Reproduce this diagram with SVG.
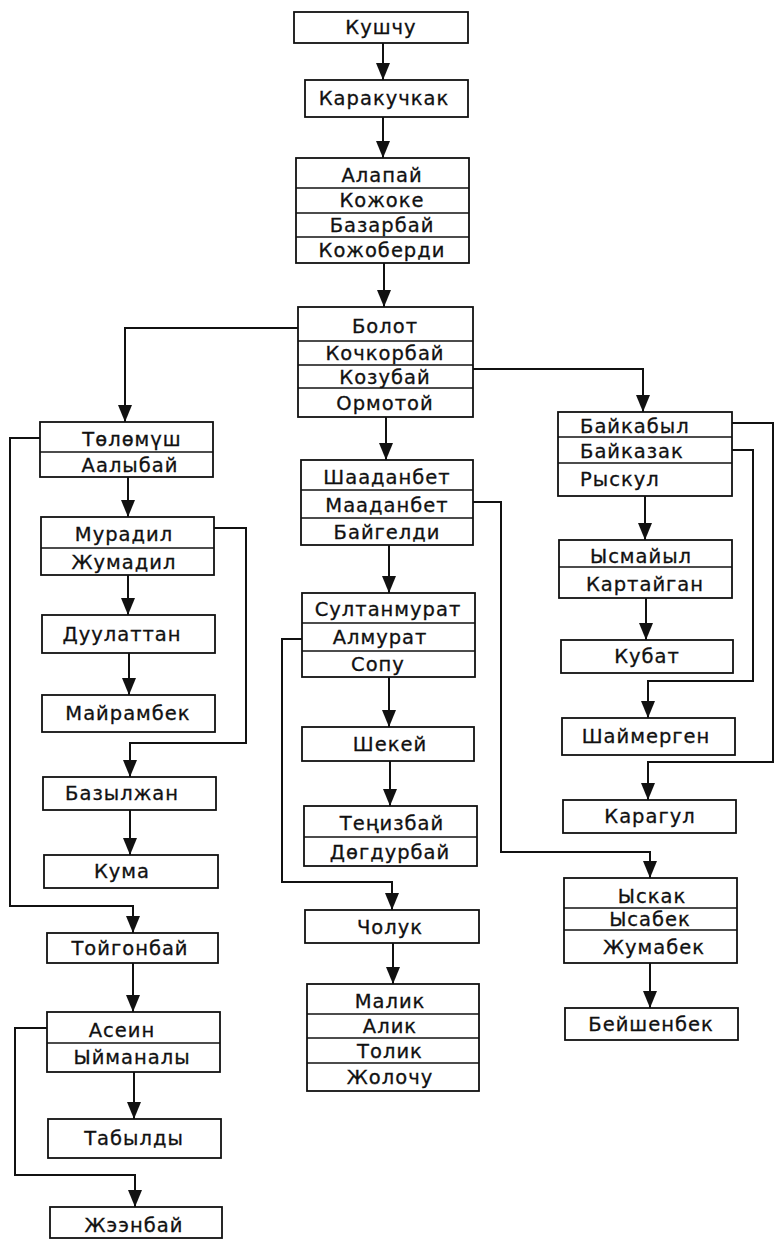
<svg xmlns="http://www.w3.org/2000/svg" width="775" height="1239" viewBox="0 0 775 1239">
<style>
rect.b{fill:#fff;stroke:#111;stroke-width:1.8}
line.s{stroke:#111;stroke-width:1.5}
text{font-family:"DejaVu Sans","Noto Sans",sans-serif;font-size:19.5px;fill:#111;text-anchor:middle;letter-spacing:1px;stroke:#111;stroke-width:0.3}
text.l{text-anchor:start}
.c{fill:none;stroke:#111;stroke-width:2}
</style>
<defs>
<marker id="ah" markerUnits="userSpaceOnUse" markerWidth="17" markerHeight="14" refX="17" refY="7" orient="auto" viewBox="0 0 17 14">
<path d="M0,0 L17,7 L0,14 z" fill="#111"/>
</marker>
</defs>
<rect width="775" height="1239" fill="#fff"/>
<g id="connectors">
<path class="c" marker-end="url(#ah)" d="M383,43 V80"/>
<path class="c" marker-end="url(#ah)" d="M383,117 V158"/>
<path class="c" marker-end="url(#ah)" d="M384,263 V307"/>
<path class="c" marker-end="url(#ah)" d="M298,328 H125 V422"/>
<path class="c" marker-end="url(#ah)" d="M473,369 H643 V412"/>
<path class="c" marker-end="url(#ah)" d="M386,417 V460"/>
<path class="c" marker-end="url(#ah)" d="M389,545 V593"/>
<path class="c" marker-end="url(#ah)" d="M473,502 H501 V852 H650 V878"/>
<path class="c" marker-end="url(#ah)" d="M389,677 V727"/>
<path class="c" marker-end="url(#ah)" d="M390,761 V806"/>
<path class="c" marker-end="url(#ah)" d="M302,639 H282 V882 H392 V910"/>
<path class="c" marker-end="url(#ah)" d="M393,943 V984"/>
<path class="c" marker-end="url(#ah)" d="M128,477 V517"/>
<path class="c" marker-end="url(#ah)" d="M40,438 H10 V906 H133 V933"/>
<path class="c" marker-end="url(#ah)" d="M128,575 V615"/>
<path class="c" marker-end="url(#ah)" d="M214,528 H246 V743 H130 V777"/>
<path class="c" marker-end="url(#ah)" d="M129,653 V695"/>
<path class="c" marker-end="url(#ah)" d="M130,810 V855"/>
<path class="c" marker-end="url(#ah)" d="M133,963 V1012"/>
<path class="c" marker-end="url(#ah)" d="M134,1072 V1119"/>
<path class="c" marker-end="url(#ah)" d="M47,1028 H15 V1175 H135 V1207"/>
<path class="c" marker-end="url(#ah)" d="M645,496 V540"/>
<path class="c" marker-end="url(#ah)" d="M732,423 H773 V762 H648 V800"/>
<path class="c" marker-end="url(#ah)" d="M732,450 H753 V681 H648 V718"/>
<path class="c" marker-end="url(#ah)" d="M646,598 V640"/>
<path class="c" marker-end="url(#ah)" d="M650,963 V1008"/>
</g>
<g id="n-kushchu"><rect class="b" x="294" y="12" width="174" height="31"/><text x="381" y="34">Кушчу</text></g>
<g id="n-karakuchkak"><rect class="b" x="305" y="80" width="163" height="37"/><text x="384" y="105">Каракучкак</text></g>
<g id="n-alapai"><rect class="b" x="296" y="158" width="173" height="105"/>
<line class="s" x1="296" y1="188" x2="469" y2="188"/><line class="s" x1="296" y1="213" x2="469" y2="213"/><line class="s" x1="296" y1="237" x2="469" y2="237"/>
<text x="382" y="182">Алапай</text><text x="382" y="207">Кожоке</text><text x="382" y="232">Базарбай</text><text x="382" y="257">Кожоберди</text></g>
<g id="n-bolot"><rect class="b" x="298" y="307" width="175" height="110"/>
<line class="s" x1="298" y1="341" x2="473" y2="341"/><line class="s" x1="298" y1="365" x2="473" y2="365"/><line class="s" x1="298" y1="388" x2="473" y2="388"/>
<text x="385" y="333">Болот</text><text x="385" y="360">Кочкорбай</text><text x="385" y="384">Козубай</text><text x="385" y="410">Ормотой</text></g>
<g id="n-shaadanbet"><rect class="b" x="301" y="460" width="172" height="85"/>
<line class="s" x1="301" y1="490" x2="473" y2="490"/><line class="s" x1="301" y1="518" x2="473" y2="518"/>
<text x="387" y="484">Шааданбет</text><text x="387" y="512">Мааданбет</text><text x="387" y="539">Байгелди</text></g>
<g id="n-sultanmurat"><rect class="b" x="302" y="593" width="173" height="84"/>
<line class="s" x1="302" y1="623" x2="475" y2="623"/><line class="s" x1="302" y1="651" x2="475" y2="651"/>
<text x="388" y="616">Султанмурат</text><text x="380" y="644">Алмурат</text><text x="378" y="671">Сопу</text></g>
<g id="n-shekei"><rect class="b" x="302" y="727" width="172" height="34"/><text x="390" y="751">Шекей</text></g>
<g id="n-tenizbai"><rect class="b" x="304" y="806" width="173" height="60"/>
<line class="s" x1="304" y1="837" x2="477" y2="837"/>
<text x="392" y="830">Теңизбай</text><text x="390" y="859">Дөгдурбай</text></g>
<g id="n-choluk"><rect class="b" x="305" y="910" width="174" height="33"/><text x="390" y="934">Чолук</text></g>
<g id="n-malik"><rect class="b" x="307" y="984" width="172" height="107"/>
<line class="s" x1="307" y1="1014" x2="479" y2="1014"/><line class="s" x1="307" y1="1038" x2="479" y2="1038"/><line class="s" x1="307" y1="1063" x2="479" y2="1063"/>
<text x="390" y="1008">Малик</text><text x="390" y="1033">Алик</text><text x="390" y="1058">Толик</text><text x="390" y="1084">Жолочу</text></g>
<g id="n-tolomush"><rect class="b" x="40" y="422" width="173" height="55"/>
<line class="s" x1="40" y1="452" x2="213" y2="452"/>
<text x="132" y="446">Төлөмүш</text><text x="130" y="472">Аалыбай</text></g>
<g id="n-muradil"><rect class="b" x="41" y="517" width="173" height="58"/>
<line class="s" x1="41" y1="548" x2="214" y2="548"/>
<text x="124" y="541">Мурадил</text><text x="124" y="569">Жумадил</text></g>
<g id="n-duulattan"><rect class="b" x="42" y="615" width="173" height="38"/><text x="122" y="641">Дуулаттан</text></g>
<g id="n-mairambek"><rect class="b" x="42" y="695" width="173" height="37"/><text x="128" y="720">Майрамбек</text></g>
<g id="n-bazylzhan"><rect class="b" x="43" y="777" width="173" height="33"/><text x="122" y="800">Базылжан</text></g>
<g id="n-kuma"><rect class="b" x="44" y="855" width="174" height="33"/><text x="122" y="878">Кума</text></g>
<g id="n-toigonbai"><rect class="b" x="47" y="933" width="171" height="30"/><text x="130" y="955">Тойгонбай</text></g>
<g id="n-asein"><rect class="b" x="47" y="1012" width="173" height="60"/>
<line class="s" x1="47" y1="1043" x2="220" y2="1043"/>
<text x="122" y="1037">Асеин</text><text x="132" y="1064">Ыйманалы</text></g>
<g id="n-tabyldy"><rect class="b" x="48" y="1119" width="173" height="39"/><text x="134" y="1145">Табылды</text></g>
<g id="n-zheenbai"><rect class="b" x="50" y="1207" width="172" height="31"/><text x="134" y="1232">Жээнбай</text></g>
<g id="n-baikabyl"><rect class="b" x="558" y="412" width="174" height="84"/>
<line class="s" x1="558" y1="437" x2="732" y2="437"/><line class="s" x1="558" y1="463" x2="732" y2="463"/>
<text class="l" x="580" y="433">Байкабыл</text><text class="l" x="580" y="458">Байказак</text><text class="l" x="580" y="486">Рыскул</text></g>
<g id="n-ysmaiyl"><rect class="b" x="559" y="540" width="173" height="58"/>
<line class="s" x1="559" y1="567" x2="732" y2="567"/>
<text x="641" y="563">Ысмайыл</text><text x="645" y="591">Картайган</text></g>
<g id="n-kubat"><rect class="b" x="561" y="640" width="172" height="33"/><text x="647" y="663">Кубат</text></g>
<g id="n-shaimergen"><rect class="b" x="562" y="718" width="173" height="37"/><text x="646" y="743">Шаймерген</text></g>
<g id="n-karagul"><rect class="b" x="563" y="800" width="173" height="33"/><text x="650" y="823">Карагул</text></g>
<g id="n-yskak"><rect class="b" x="564" y="878" width="173" height="85"/>
<line class="s" x1="564" y1="908" x2="737" y2="908"/><line class="s" x1="564" y1="930" x2="737" y2="930"/>
<text x="652" y="903">Ыскак</text><text x="650" y="926">Ысабек</text><text x="654" y="954">Жумабек</text></g>
<g id="n-beishenbek"><rect class="b" x="565" y="1008" width="173" height="32"/><text x="651" y="1031">Бейшенбек</text></g>
</svg>
